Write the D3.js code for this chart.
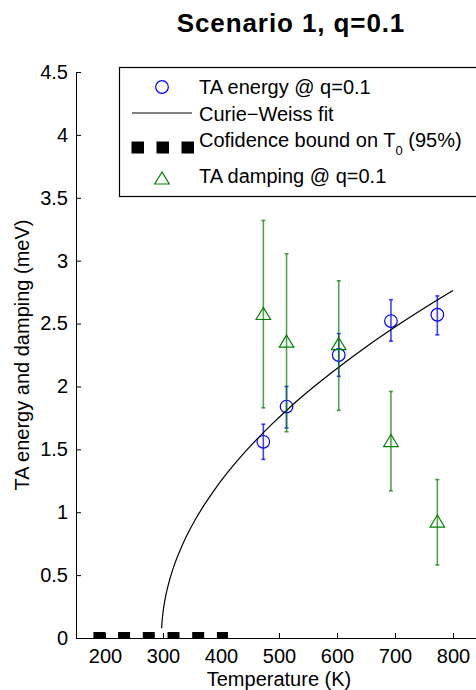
<!DOCTYPE html>
<html>
<head>
<meta charset="utf-8">
<script src="https://cdn.jsdelivr.net/npm/d3@7"></script>
<style>
  body { margin: 0; background: #fff; }
  svg { display: block; font-family: "Liberation Sans", Arial, Helvetica, sans-serif; }
</style>
</head>
<body>
<div class="visHolder"></div>
<script>
// data
const temps = [473, 513, 603, 693, 773];
const energy = [1.56, 1.84, 2.25, 2.52, 2.57];
const energyLo = [1.42, 1.67, 2.08, 2.36, 2.41];
const energyHi = [1.70, 2.00, 2.42, 2.69, 2.72];
const damping = [2.58, 2.36, 2.34, 1.57, 0.93];
const dampingLo = [1.83, 1.64, 1.81, 1.17, 0.58];
const dampingHi = [3.32, 3.055, 2.84, 1.96, 1.26];

// Curie-Weiss fit curve
const fitT = [297.7, 298, 299, 300, 302, 305, 310, 315, 320, 330, 340, 355, 370, 390, 410, 435, 460, 490, 520, 560, 600, 650, 700, 750, 800];
const fitE = [0.078, 0.103, 0.161, 0.202, 0.267, 0.342, 0.439, 0.518, 0.587, 0.704, 0.805, 0.936, 1.050, 1.186, 1.308, 1.446, 1.571, 1.710, 1.839, 1.997, 2.143, 2.314, 2.472, 2.621, 2.762];

// confidence bound on T0
const boundT = [180, 412];
const boundE = [0, 0];

const xTicks = [200, 300, 400, 500, 600, 700, 800];
const xTickLabels = ['200', '300', '400', '500', '600', '700', '800'];
const yTicks = [0, 0.5, 1, 1.5, 2, 2.5, 3, 3.5, 4, 4.5];
const yTickLabels = ['0', '0.5', '1', '1.5', '2', '2.5', '3', '3.5', '4', '4.5'];

const legendLabels = ['TA energy @ q=0.1', 'Curie\u2212Weiss fit', 'Cofidence bound on T', 'TA damping @ q=0.1'];

const width = 476,
    height = 690,
    plotLeft = 76,
    plotRight = 482,
    plotTop = 72,
    plotBottom = 638;

const blue = '#0000ff',
    green = '#008000';

const svg = d3.select('.visHolder')
    .append('svg')
    .attr('width', width)
    .attr('height', height);

const xScale = d3.scaleLinear().domain([150, 850]).range([plotLeft, plotRight]);
const yScale = d3.scaleLinear().domain([0, 4.5]).range([plotBottom, plotTop]);

svg.append('defs').append('clipPath')
    .attr('id', 'plotclip')
    .append('rect')
    .attr('x', plotLeft)
    .attr('y', plotTop)
    .attr('width', plotRight - plotLeft)
    .attr('height', plotBottom - plotTop);

// title
svg.append('text')
    .attr('x', 291)
    .attr('y', 32)
    .attr('text-anchor', 'middle')
    .style('font-size', '26px')
    .style('font-weight', 'bold')
    .style('letter-spacing', '0.9px')
    .text('Scenario 1, q=0.1');

// axes
const xAxis = d3.axisBottom(xScale)
    .tickValues(xTicks)
    .tickFormat((d, i) => xTickLabels[i])
    .tickSizeInner(-5)
    .tickSizeOuter(0)
    .tickPadding(11);

const yAxis = d3.axisLeft(yScale)
    .tickValues(yTicks)
    .tickFormat((d, i) => yTickLabels[i])
    .tickSizeInner(-5)
    .tickSizeOuter(0)
    .tickPadding(8);

const gx = svg.append('g')
    .attr('transform', `translate(0,${plotBottom})`)
    .call(xAxis);

const gy = svg.append('g')
    .attr('transform', `translate(${plotLeft},0)`)
    .call(yAxis);

[gx, gy].forEach(g => {
    g.selectAll('text')
        .style('font-size', '20px')
        .style('font-family', '"Liberation Sans", Arial, sans-serif')
        .attr('fill', '#000');
    g.selectAll('line, path').attr('stroke', '#000');
});

// axis labels
svg.append('text')
    .attr('x', 279)
    .attr('y', 685.5)
    .attr('text-anchor', 'middle')
    .style('font-size', '20px')
    .text('Temperature (K)');

svg.append('text')
    .attr('transform', 'translate(29,355) rotate(-90)')
    .attr('text-anchor', 'middle')
    .style('font-size', '20px')
    .text('TA energy and damping (meV)');

const plot = svg.append('g').attr('clip-path', 'url(#plotclip)');

// TA energy error bars and markers
const eBars = plot.append('g')
    .attr('stroke', blue)
    .attr('stroke-width', 1.6)
    .attr('stroke-opacity', 0.75);

temps.forEach((t, i) => {
    const x = xScale(t);
    eBars.append('line')
        .attr('x1', x).attr('x2', x)
        .attr('y1', yScale(energyLo[i])).attr('y2', yScale(energyHi[i]));
    [energyLo[i], energyHi[i]].forEach(v => {
        eBars.append('line')
            .attr('x1', x - 2).attr('x2', x + 2)
            .attr('y1', yScale(v)).attr('y2', yScale(v));
    });
});

plot.append('g')
    .selectAll('circle')
    .data(temps)
    .enter()
    .append('circle')
    .attr('cx', d => xScale(d))
    .attr('cy', (d, i) => yScale(energy[i]))
    .attr('r', 6.3)
    .attr('fill', 'none')
    .attr('stroke', blue)
    .attr('stroke-width', 1.2);

// fit line
const line = d3.line()
    .x(d => xScale(d[0]))
    .y(d => yScale(d[1]))
    .curve(d3.curveMonotoneX);

plot.append('path')
    .datum(fitT.map((t, i) => [t, fitE[i]]))
    .attr('d', line)
    .attr('fill', 'none')
    .attr('stroke', '#000')
    .attr('stroke-width', 1.2);

// confidence bound, thick dashed line on the axis
plot.append('path')
    .datum(boundT.map((t, i) => [t, boundE[i]]))
    .attr('d', d3.line().x(d => xScale(d[0])).y(d => yScale(d[1])))
    .attr('fill', 'none')
    .attr('stroke', '#000')
    .attr('stroke-width', 12)
    .attr('stroke-dasharray', '12,12.7');

// TA damping error bars and markers
const dBars = plot.append('g')
    .attr('stroke', green)
    .attr('stroke-width', 1.6)
    .attr('stroke-opacity', 0.7);

temps.forEach((t, i) => {
    const x = xScale(t);
    dBars.append('line')
        .attr('x1', x).attr('x2', x)
        .attr('y1', yScale(dampingLo[i])).attr('y2', yScale(dampingHi[i]));
    [dampingLo[i], dampingHi[i]].forEach(v => {
        dBars.append('line')
            .attr('x1', x - 2).attr('x2', x + 2)
            .attr('y1', yScale(v)).attr('y2', yScale(v));
    });
});

const tri = (x, y) => `M${x},${y - 6}L${x - 7.25},${y + 6}L${x + 7.25},${y + 6}Z`;

plot.append('g')
    .selectAll('path')
    .data(temps)
    .enter()
    .append('path')
    .attr('d', (d, i) => tri(xScale(d), yScale(damping[i])))
    .attr('fill', 'none')
    .attr('stroke', green)
    .attr('stroke-width', 1.2);

// legend
const legend = svg.append('g');

legend.append('rect')
    .attr('x', 119.5)
    .attr('y', 67.5)
    .attr('width', 362)
    .attr('height', 129)
    .attr('fill', '#fff')
    .attr('stroke', '#000')
    .attr('stroke-width', 1.2);

legend.append('circle')
    .attr('cx', 162).attr('cy', 87)
    .attr('r', 6.3)
    .attr('fill', 'none')
    .attr('stroke', blue)
    .attr('stroke-width', 1.2);

legend.append('line')
    .attr('x1', 132).attr('x2', 192)
    .attr('y1', 113).attr('y2', 113)
    .attr('stroke', '#000')
    .attr('stroke-width', 1.2);

legend.append('line')
    .attr('x1', 131.5).attr('x2', 194)
    .attr('y1', 147.5).attr('y2', 147.5)
    .attr('stroke', '#000')
    .attr('stroke-width', 12)
    .attr('stroke-dasharray', '12.5,12.5');

legend.append('path')
    .attr('d', tri(162, 178))
    .attr('fill', 'none')
    .attr('stroke', green)
    .attr('stroke-width', 1.2);

const legendY = [93.5, 121, 147, 183];

legendLabels.forEach((lab, i) => {
    const t = legend.append('text')
        .attr('x', 199)
        .attr('y', legendY[i])
        .style('font-size', '20px');
    t.append('tspan').text(lab);
    if (i === 2) {
        t.append('tspan')
            .attr('dy', 8)
            .style('font-size', '13px')
            .text('0');
        t.append('tspan')
            .attr('dy', -8)
            .text(' (95%)');
    }
});
</script>
</body>
</html>
